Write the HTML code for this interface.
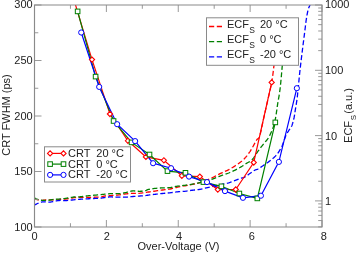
<!DOCTYPE html><html><head><meta charset="utf-8"><style>html,body{margin:0;padding:0;background:#fff;}svg{display:block;will-change:transform;}</style></head><body><svg width="357" height="253" viewBox="0 0 357 253">
<defs><clipPath id="pc"><rect x="34.5" y="5" width="287.5" height="222"/></clipPath></defs>
<rect width="357" height="253" fill="#fff"/>
<g clip-path="url(#pc)" fill="none" stroke-width="1.3" stroke-dasharray="5 2.5">
<path d="M34.00,198.80 L34.31,198.88 L34.72,198.99 L35.21,199.12 L35.75,199.27 L36.32,199.42 L36.91,199.56 L37.47,199.69 L38.00,199.80 L38.49,199.89 L38.98,199.98 L39.46,200.06 L39.94,200.14 L40.43,200.20 L40.93,200.25 L41.45,200.28 L42.00,200.30 L42.54,200.29 L43.06,200.26 L43.58,200.20 L44.12,200.14 L44.71,200.07 L45.38,200.00 L46.13,199.94 L47.00,199.90 L48.04,199.88 L49.27,199.87 L50.60,199.87 L52.00,199.88 L53.40,199.88 L54.73,199.87 L55.96,199.84 L57.00,199.80 L57.87,199.73 L58.62,199.63 L59.29,199.52 L59.88,199.39 L60.42,199.27 L60.94,199.16 L61.46,199.07 L62.00,199.00 L62.52,198.97 L62.98,198.97 L63.40,199.00 L63.81,199.03 L64.25,199.06 L64.74,199.07 L65.32,199.06 L66.00,199.00 L66.82,198.89 L67.74,198.74 L68.75,198.56 L69.81,198.37 L70.90,198.17 L71.98,197.99 L73.02,197.82 L74.00,197.70 L74.91,197.61 L75.77,197.55 L76.61,197.51 L77.44,197.47 L78.27,197.45 L79.13,197.44 L80.04,197.42 L81.00,197.40 L82.02,197.38 L83.09,197.37 L84.18,197.36 L85.31,197.35 L86.46,197.34 L87.63,197.33 L88.81,197.32 L90.00,197.30 L91.24,197.28 L92.55,197.26 L93.90,197.23 L95.25,197.21 L96.57,197.17 L97.83,197.13 L98.98,197.07 L100.00,197.00 L100.86,196.90 L101.60,196.78 L102.24,196.65 L102.81,196.50 L103.34,196.35 L103.87,196.22 L104.41,196.10 L105.00,196.00 L105.59,195.93 L106.13,195.89 L106.66,195.86 L107.19,195.84 L107.76,195.83 L108.40,195.80 L109.14,195.76 L110.00,195.70 L111.04,195.62 L112.27,195.51 L113.60,195.40 L115.00,195.28 L116.40,195.16 L117.73,195.03 L118.96,194.91 L120.00,194.80 L120.85,194.69 L121.55,194.59 L122.15,194.48 L122.69,194.38 L123.20,194.28 L123.73,194.18 L124.31,194.09 L125.00,194.00 L125.77,193.91 L126.59,193.83 L127.43,193.74 L128.31,193.66 L129.21,193.59 L130.13,193.52 L131.06,193.45 L132.00,193.40 L132.94,193.36 L133.88,193.35 L134.84,193.35 L135.81,193.35 L136.81,193.35 L137.84,193.32 L138.90,193.28 L140.00,193.20 L141.15,193.08 L142.36,192.94 L143.60,192.77 L144.88,192.58 L146.16,192.39 L147.45,192.19 L148.74,191.99 L150.00,191.80 L151.25,191.62 L152.50,191.43 L153.75,191.24 L155.00,191.04 L156.25,190.85 L157.50,190.66 L158.75,190.48 L160.00,190.30 L161.25,190.14 L162.50,189.99 L163.75,189.85 L165.00,189.71 L166.25,189.56 L167.50,189.40 L168.75,189.21 L170.00,189.00 L171.25,188.75 L172.50,188.46 L173.75,188.15 L175.00,187.82 L176.25,187.50 L177.50,187.18 L178.75,186.87 L180.00,186.60 L181.25,186.36 L182.50,186.14 L183.75,185.94 L185.00,185.74 L186.25,185.55 L187.50,185.35 L188.75,185.14 L190.00,184.90 L191.25,184.65 L192.50,184.40 L193.75,184.15 L195.00,183.88 L196.25,183.60 L197.50,183.29 L198.75,182.96 L200.00,182.60 L201.25,182.21 L202.50,181.79 L203.75,181.34 L205.00,180.87 L206.25,180.39 L207.50,179.88 L208.75,179.35 L210.00,178.80 L211.25,178.22 L212.50,177.61 L213.75,176.97 L215.00,176.31 L216.25,175.64 L217.50,174.98 L218.75,174.33 L220.00,173.70 L221.25,173.11 L222.50,172.54 L223.75,171.99 L225.00,171.44 L226.25,170.88 L227.50,170.29 L228.75,169.67 L230.00,169.00 L231.28,168.26 L232.62,167.45 L233.97,166.61 L235.31,165.74 L236.62,164.87 L237.85,164.03 L238.99,163.23 L240.00,162.50 L240.87,161.85 L241.61,161.27 L242.25,160.73 L242.83,160.22 L243.37,159.71 L243.89,159.18 L244.42,158.62 L245.00,158.00 L245.61,157.32 L246.23,156.59 L246.85,155.84 L247.46,155.06 L248.05,154.28 L248.63,153.50 L249.18,152.74 L249.70,152.00 L250.18,151.30 L250.62,150.61 L251.03,149.94 L251.42,149.28 L251.80,148.61 L252.19,147.93 L252.58,147.23 L253.00,146.50 L253.44,145.72 L253.89,144.89 L254.35,144.03 L254.81,143.16 L255.27,142.30 L255.73,141.47 L256.17,140.70 L256.60,140.00 L257.01,139.46 L257.40,139.11 L257.78,138.84 L258.15,138.59 L258.52,138.27 L258.90,137.79 L259.29,137.06 L259.70,136.00 L260.12,134.60 L260.54,132.94 L260.97,131.05 L261.41,129.00 L261.86,126.82 L262.32,124.56 L262.80,122.27 L263.30,120.00 L263.82,117.67 L264.38,115.22 L264.95,112.69 L265.53,110.10 L266.12,107.50 L266.70,104.92 L267.26,102.41 L267.80,100.00 L268.33,97.68 L268.85,95.42 L269.38,93.20 L269.89,91.02 L270.38,88.86 L270.85,86.71 L271.29,84.56 L271.70,82.40 L272.07,80.23 L272.39,78.05 L272.69,75.87 L272.97,73.71 L273.23,71.56 L273.48,69.44 L273.74,67.35 L274.00,65.30 L274.28,63.20 L274.57,60.99 L274.86,58.76 L275.14,56.58 L275.41,54.54 L275.65,52.71 L275.85,51.17 L276.00,50.00" stroke="#ff0000"/>
<path d="M34.00,197.60 L34.31,197.76 L34.72,197.99 L35.21,198.26 L35.75,198.56 L36.32,198.86 L36.91,199.14 L37.47,199.40 L38.00,199.60 L38.49,199.75 L38.95,199.88 L39.41,199.99 L39.88,200.08 L40.35,200.15 L40.86,200.20 L41.40,200.25 L42.00,200.30 L42.65,200.34 L43.36,200.37 L44.10,200.39 L44.88,200.40 L45.66,200.40 L46.45,200.38 L47.24,200.35 L48.00,200.30 L48.75,200.23 L49.50,200.13 L50.25,200.01 L51.00,199.88 L51.75,199.74 L52.50,199.61 L53.25,199.49 L54.00,199.40 L54.75,199.33 L55.50,199.27 L56.25,199.23 L57.00,199.19 L57.75,199.15 L58.50,199.11 L59.25,199.06 L60.00,199.00 L60.74,198.93 L61.45,198.86 L62.16,198.79 L62.88,198.71 L63.60,198.62 L64.36,198.52 L65.15,198.42 L66.00,198.30 L66.91,198.16 L67.88,197.99 L68.90,197.81 L69.94,197.62 L70.99,197.44 L72.02,197.27 L73.03,197.12 L74.00,197.00 L74.92,196.92 L75.82,196.87 L76.70,196.84 L77.56,196.82 L78.42,196.81 L79.27,196.79 L80.13,196.76 L81.00,196.70 L81.89,196.61 L82.80,196.51 L83.71,196.39 L84.62,196.26 L85.52,196.13 L86.39,196.01 L87.22,195.90 L88.00,195.80 L88.71,195.72 L89.34,195.65 L89.93,195.59 L90.50,195.53 L91.07,195.48 L91.66,195.42 L92.29,195.36 L93.00,195.30 L93.76,195.23 L94.54,195.17 L95.35,195.10 L96.19,195.03 L97.07,194.96 L97.99,194.88 L98.97,194.79 L100.00,194.70 L101.11,194.59 L102.29,194.46 L103.53,194.31 L104.81,194.17 L106.12,194.03 L107.43,193.90 L108.73,193.78 L110.00,193.70 L111.28,193.65 L112.62,193.63 L113.97,193.63 L115.31,193.64 L116.62,193.66 L117.85,193.66 L118.99,193.64 L120.00,193.60 L120.85,193.53 L121.55,193.45 L122.15,193.36 L122.69,193.25 L123.20,193.13 L123.73,193.00 L124.31,192.86 L125.00,192.70 L125.77,192.51 L126.59,192.28 L127.43,192.03 L128.31,191.77 L129.21,191.53 L130.13,191.30 L131.06,191.12 L132.00,191.00 L132.97,190.95 L134.00,190.96 L135.06,191.01 L136.12,191.08 L137.18,191.17 L138.19,191.24 L139.14,191.29 L140.00,191.30 L140.77,191.27 L141.46,191.24 L142.09,191.18 L142.69,191.12 L143.26,191.04 L143.82,190.94 L144.40,190.83 L145.00,190.70 L145.59,190.54 L146.13,190.36 L146.66,190.15 L147.19,189.93 L147.76,189.71 L148.40,189.49 L149.14,189.28 L150.00,189.10 L151.01,188.93 L152.15,188.77 L153.38,188.62 L154.69,188.47 L156.03,188.34 L157.38,188.21 L158.72,188.10 L160.00,188.00 L161.28,187.92 L162.62,187.86 L163.97,187.83 L165.31,187.79 L166.62,187.76 L167.85,187.73 L168.99,187.67 L170.00,187.60 L170.86,187.50 L171.60,187.39 L172.24,187.26 L172.81,187.12 L173.34,186.99 L173.87,186.85 L174.41,186.72 L175.00,186.60 L175.59,186.49 L176.13,186.40 L176.66,186.30 L177.19,186.21 L177.76,186.12 L178.40,186.02 L179.14,185.92 L180.00,185.80 L181.01,185.67 L182.15,185.55 L183.38,185.41 L184.69,185.28 L186.03,185.13 L187.38,184.97 L188.72,184.79 L190.00,184.60 L191.25,184.39 L192.50,184.17 L193.75,183.94 L195.00,183.69 L196.25,183.44 L197.50,183.17 L198.75,182.89 L200.00,182.60 L201.25,182.30 L202.50,182.00 L203.75,181.69 L205.00,181.36 L206.25,181.02 L207.50,180.67 L208.75,180.29 L210.00,179.90 L211.25,179.48 L212.50,179.02 L213.75,178.55 L215.00,178.06 L216.25,177.56 L217.50,177.06 L218.75,176.57 L220.00,176.10 L221.25,175.65 L222.50,175.22 L223.75,174.80 L225.00,174.38 L226.25,173.94 L227.50,173.49 L228.75,173.02 L230.00,172.50 L231.27,171.94 L232.57,171.33 L233.89,170.70 L235.19,170.05 L236.48,169.39 L237.72,168.74 L238.90,168.11 L240.00,167.50 L241.03,166.90 L242.02,166.30 L242.96,165.70 L243.86,165.11 L244.70,164.55 L245.49,164.02 L246.22,163.53 L246.90,163.10 L247.50,162.75 L248.02,162.47 L248.47,162.24 L248.87,162.04 L249.24,161.85 L249.61,161.65 L249.99,161.41 L250.40,161.10 L250.82,160.75 L251.24,160.40 L251.65,160.02 L252.06,159.62 L252.47,159.19 L252.90,158.71 L253.34,158.19 L253.80,157.60 L254.28,156.95 L254.76,156.23 L255.25,155.46 L255.76,154.64 L256.28,153.80 L256.83,152.94 L257.40,152.07 L258.00,151.20 L258.65,150.31 L259.35,149.37 L260.09,148.41 L260.84,147.43 L261.60,146.47 L262.34,145.53 L263.04,144.63 L263.70,143.80 L264.32,143.03 L264.92,142.31 L265.49,141.63 L266.05,140.98 L266.58,140.35 L267.08,139.73 L267.56,139.12 L268.00,138.50 L268.40,137.89 L268.75,137.30 L269.07,136.73 L269.37,136.17 L269.65,135.60 L269.92,135.02 L270.20,134.43 L270.50,133.80 L270.81,133.14 L271.12,132.47 L271.44,131.77 L271.75,131.06 L272.06,130.35 L272.35,129.63 L272.63,128.91 L272.90,128.20 L273.15,127.49 L273.39,126.79 L273.61,126.08 L273.82,125.37 L274.03,124.66 L274.23,123.95 L274.42,123.23 L274.60,122.50 L274.78,121.77 L274.94,121.03 L275.10,120.29 L275.24,119.55 L275.39,118.80 L275.53,118.04 L275.66,117.28 L275.80,116.50 L275.93,115.71 L276.06,114.92 L276.19,114.12 L276.31,113.31 L276.43,112.50 L276.55,111.67 L276.68,110.84 L276.80,110.00 L276.92,109.16 L277.04,108.31 L277.16,107.46 L277.27,106.59 L277.40,105.72 L277.52,104.83 L277.66,103.93 L277.80,103.00 L277.96,102.06 L278.12,101.12 L278.30,100.16 L278.48,99.19 L278.66,98.19 L278.85,97.16 L279.03,96.10 L279.20,95.00 L279.36,93.91 L279.52,92.87 L279.67,91.82 L279.83,90.73 L279.98,89.55 L280.14,88.23 L280.31,86.73 L280.50,85.00 L280.71,82.97 L280.93,80.65 L281.16,78.13 L281.41,75.48 L281.65,72.79 L281.88,70.14 L282.10,67.62 L282.30,65.30 L282.49,63.07 L282.67,60.81 L282.85,58.57 L283.01,56.42 L283.16,54.42 L283.30,52.65 L283.41,51.15 L283.50,50.00" stroke="#008000"/>
<path d="M34.00,205.20 L34.32,205.05 L34.74,204.84 L35.25,204.59 L35.81,204.32 L36.40,204.04 L36.98,203.76 L37.52,203.51 L38.00,203.30 L38.42,203.12 L38.82,202.95 L39.20,202.80 L39.56,202.66 L39.92,202.53 L40.27,202.41 L40.63,202.30 L41.00,202.20 L41.36,202.11 L41.70,202.03 L42.04,201.96 L42.38,201.91 L42.73,201.86 L43.11,201.83 L43.53,201.81 L44.00,201.80 L44.54,201.82 L45.13,201.87 L45.77,201.94 L46.44,202.01 L47.11,202.09 L47.77,202.15 L48.41,202.19 L49.00,202.20 L49.55,202.17 L50.07,202.12 L50.57,202.06 L51.06,201.97 L51.54,201.88 L52.02,201.79 L52.51,201.69 L53.00,201.60 L53.50,201.51 L54.00,201.40 L54.50,201.30 L55.00,201.19 L55.50,201.08 L56.00,200.98 L56.50,200.88 L57.00,200.80 L57.49,200.73 L57.98,200.66 L58.46,200.59 L58.94,200.54 L59.43,200.49 L59.93,200.45 L60.45,200.42 L61.00,200.40 L61.56,200.40 L62.11,200.43 L62.67,200.47 L63.25,200.53 L63.86,200.57 L64.52,200.61 L65.22,200.62 L66.00,200.60 L66.86,200.55 L67.81,200.47 L68.82,200.36 L69.88,200.25 L70.94,200.13 L72.00,200.01 L73.03,199.90 L74.00,199.80 L74.91,199.71 L75.77,199.63 L76.61,199.56 L77.44,199.48 L78.27,199.41 L79.13,199.34 L80.04,199.27 L81.00,199.20 L82.02,199.13 L83.09,199.07 L84.18,199.01 L85.31,198.94 L86.46,198.88 L87.63,198.82 L88.81,198.76 L90.00,198.70 L91.24,198.64 L92.55,198.58 L93.90,198.52 L95.25,198.46 L96.57,198.40 L97.83,198.34 L98.98,198.27 L100.00,198.20 L100.86,198.12 L101.60,198.04 L102.24,197.95 L102.81,197.86 L103.34,197.76 L103.87,197.67 L104.41,197.58 L105.00,197.50 L105.62,197.41 L106.25,197.32 L106.88,197.23 L107.50,197.14 L108.12,197.05 L108.75,196.98 L109.38,196.93 L110.00,196.90 L110.62,196.90 L111.25,196.92 L111.88,196.96 L112.50,197.02 L113.12,197.08 L113.75,197.13 L114.38,197.18 L115.00,197.20 L115.62,197.21 L116.25,197.20 L116.88,197.18 L117.50,197.16 L118.12,197.14 L118.75,197.12 L119.38,197.11 L120.00,197.10 L120.61,197.11 L121.20,197.13 L121.79,197.15 L122.38,197.18 L122.98,197.20 L123.61,197.22 L124.28,197.22 L125.00,197.20 L125.77,197.16 L126.59,197.10 L127.43,197.03 L128.31,196.94 L129.21,196.86 L130.13,196.77 L131.06,196.68 L132.00,196.60 L132.97,196.52 L134.00,196.45 L135.06,196.37 L136.12,196.29 L137.18,196.21 L138.19,196.14 L139.14,196.07 L140.00,196.00 L140.77,195.94 L141.46,195.89 L142.09,195.85 L142.69,195.81 L143.26,195.76 L143.82,195.72 L144.40,195.66 L145.00,195.60 L145.62,195.53 L146.25,195.44 L146.88,195.36 L147.50,195.26 L148.12,195.17 L148.75,195.07 L149.38,194.98 L150.00,194.90 L150.62,194.82 L151.25,194.74 L151.88,194.67 L152.50,194.59 L153.12,194.52 L153.75,194.45 L154.38,194.37 L155.00,194.30 L155.59,194.23 L156.13,194.16 L156.66,194.09 L157.19,194.02 L157.76,193.95 L158.40,193.87 L159.14,193.79 L160.00,193.70 L161.04,193.60 L162.27,193.49 L163.60,193.38 L165.00,193.26 L166.40,193.14 L167.73,193.02 L168.96,192.90 L170.00,192.80 L170.86,192.70 L171.60,192.61 L172.24,192.51 L172.81,192.43 L173.34,192.34 L173.87,192.26 L174.41,192.18 L175.00,192.10 L175.62,192.03 L176.25,191.96 L176.88,191.89 L177.50,191.82 L178.12,191.76 L178.75,191.71 L179.38,191.65 L180.00,191.60 L180.62,191.56 L181.25,191.52 L181.88,191.49 L182.50,191.47 L183.12,191.44 L183.75,191.41 L184.38,191.36 L185.00,191.30 L185.59,191.23 L186.13,191.14 L186.66,191.05 L187.19,190.96 L187.76,190.85 L188.40,190.74 L189.14,190.62 L190.00,190.50 L191.01,190.38 L192.15,190.25 L193.38,190.13 L194.69,189.99 L196.03,189.85 L197.38,189.69 L198.72,189.51 L200.00,189.30 L201.25,189.06 L202.50,188.80 L203.75,188.51 L205.00,188.21 L206.25,187.90 L207.50,187.59 L208.75,187.29 L210.00,187.00 L211.25,186.72 L212.50,186.45 L213.75,186.18 L215.00,185.91 L216.25,185.64 L217.50,185.36 L218.75,185.08 L220.00,184.80 L221.25,184.52 L222.50,184.25 L223.75,183.98 L225.00,183.71 L226.25,183.42 L227.50,183.11 L228.75,182.77 L230.00,182.40 L231.28,181.97 L232.62,181.48 L233.97,180.95 L235.31,180.40 L236.62,179.86 L237.85,179.35 L238.99,178.89 L240.00,178.50 L240.84,178.22 L241.51,178.05 L242.07,177.93 L242.58,177.84 L243.07,177.74 L243.60,177.57 L244.23,177.30 L245.00,176.90 L245.95,176.31 L247.04,175.57 L248.22,174.71 L249.45,173.81 L250.67,172.90 L251.83,172.04 L252.89,171.29 L253.80,170.70 L254.53,170.29 L255.13,170.01 L255.62,169.84 L256.06,169.72 L256.48,169.62 L256.92,169.49 L257.41,169.30 L258.00,169.00 L258.68,168.60 L259.41,168.15 L260.18,167.65 L260.98,167.12 L261.79,166.56 L262.60,166.00 L263.41,165.44 L264.20,164.90 L264.98,164.37 L265.76,163.84 L266.55,163.30 L267.34,162.76 L268.12,162.21 L268.89,161.65 L269.65,161.08 L270.40,160.50 L271.14,159.91 L271.88,159.31 L272.61,158.70 L273.33,158.09 L274.04,157.46 L274.72,156.82 L275.38,156.17 L276.00,155.50 L276.60,154.80 L277.17,154.07 L277.73,153.32 L278.26,152.56 L278.76,151.81 L279.24,151.07 L279.68,150.36 L280.10,149.70 L280.47,149.12 L280.78,148.62 L281.05,148.17 L281.29,147.73 L281.54,147.26 L281.79,146.73 L282.07,146.08 L282.40,145.30 L282.78,144.33 L283.18,143.19 L283.61,141.93 L284.06,140.61 L284.51,139.28 L284.95,138.00 L285.39,136.82 L285.80,135.80 L286.19,134.93 L286.58,134.16 L286.96,133.47 L287.33,132.84 L287.70,132.24 L288.07,131.67 L288.43,131.10 L288.80,130.50 L289.17,129.92 L289.55,129.40 L289.92,128.91 L290.29,128.42 L290.66,127.91 L291.02,127.35 L291.37,126.72 L291.70,126.00 L292.02,125.17 L292.34,124.25 L292.65,123.26 L292.95,122.22 L293.24,121.15 L293.51,120.08 L293.76,119.02 L294.00,118.00 L294.21,116.99 L294.40,115.95 L294.57,114.91 L294.73,113.88 L294.88,112.85 L295.02,111.86 L295.16,110.90 L295.30,110.00 L295.44,109.16 L295.57,108.38 L295.70,107.65 L295.82,106.94 L295.94,106.24 L296.06,105.52 L296.18,104.78 L296.30,104.00 L296.43,103.17 L296.56,102.32 L296.69,101.45 L296.82,100.56 L296.95,99.67 L297.07,98.77 L297.19,97.88 L297.30,97.00 L297.40,96.13 L297.49,95.27 L297.58,94.42 L297.66,93.56 L297.74,92.70 L297.83,91.82 L297.91,90.92 L298.00,90.00 L298.09,89.06 L298.19,88.12 L298.28,87.16 L298.38,86.19 L298.48,85.19 L298.58,84.16 L298.69,83.10 L298.80,82.00 L298.91,80.85 L299.03,79.65 L299.15,78.41 L299.27,77.15 L299.40,75.87 L299.53,74.58 L299.66,73.28 L299.80,72.00 L299.94,70.72 L300.08,69.43 L300.23,68.14 L300.38,66.84 L300.53,65.53 L300.69,64.22 L300.84,62.91 L301.00,61.60 L301.16,60.27 L301.32,58.90 L301.49,57.53 L301.66,56.15 L301.83,54.79 L301.99,53.47 L302.15,52.20 L302.30,51.00 L302.44,49.87 L302.57,48.79 L302.70,47.77 L302.82,46.77 L302.95,45.81 L303.06,44.87 L303.18,43.93 L303.30,43.00 L303.42,42.08 L303.53,41.20 L303.64,40.35 L303.75,39.50 L303.86,38.65 L303.97,37.80 L304.08,36.92 L304.20,36.00 L304.32,35.05 L304.44,34.07 L304.57,33.07 L304.69,32.06 L304.82,31.04 L304.95,30.02 L305.07,29.01 L305.20,28.00 L305.32,26.99 L305.45,25.98 L305.57,24.96 L305.69,23.94 L305.81,22.93 L305.94,21.93 L306.07,20.95 L306.20,20.00 L306.34,19.06 L306.49,18.12 L306.64,17.19 L306.79,16.28 L306.95,15.40 L307.10,14.55 L307.25,13.75 L307.40,13.00 L307.54,12.31 L307.68,11.68 L307.81,11.09 L307.94,10.53 L308.07,10.00 L308.21,9.50 L308.35,9.00 L308.50,8.50 L308.66,8.02 L308.84,7.59 L309.02,7.18 L309.20,6.78 L309.38,6.38 L309.56,5.96 L309.74,5.50 L309.90,5.00 L310.06,4.41 L310.22,3.74 L310.38,3.02 L310.54,2.28 L310.68,1.57 L310.81,0.93 L310.92,0.40 L311.00,0.00" stroke="#0000ff"/>
</g>
<g clip-path="url(#pc)" fill="none" stroke-width="1.2">
<path d="M74.03,0.00 L92.00,59.60 L109.97,114.00 L127.94,140.80 L145.91,156.90 L163.88,160.30 L181.85,175.80 L199.82,176.60 L217.79,189.60 L235.76,189.50 L253.73,162.50 L271.70,82.40" stroke="#ff0000"/>
<path d="M77.63,11.40 L95.60,76.60 L113.57,121.00 L131.54,142.40 L149.51,154.50 L167.48,171.10 L185.45,172.80 L203.42,182.10 L221.39,186.30 L239.36,193.50 L257.33,198.40 L275.30,122.40" stroke="#008000"/>
<path d="M81.22,32.50 L99.19,86.90 L117.16,124.20 L135.13,141.10 L153.10,163.20 L171.07,168.20 L189.04,176.60 L207.01,182.10 L224.98,191.10 L242.95,197.80 L260.92,195.70 L278.89,161.90 L296.86,88.20" stroke="#0000ff"/>
</g>
<g clip-path="url(#pc)">
<path d="M71.43,0.00 L74.03,-2.60 L76.63,0.00 L74.03,2.60 Z" fill="#fff" stroke="#ff0000" stroke-width="1.1"/>
<path d="M89.40,59.60 L92.00,57.00 L94.60,59.60 L92.00,62.20 Z" fill="#fff" stroke="#ff0000" stroke-width="1.1"/>
<path d="M107.37,114.00 L109.97,111.40 L112.57,114.00 L109.97,116.60 Z" fill="#fff" stroke="#ff0000" stroke-width="1.1"/>
<path d="M125.34,140.80 L127.94,138.20 L130.54,140.80 L127.94,143.40 Z" fill="#fff" stroke="#ff0000" stroke-width="1.1"/>
<path d="M143.31,156.90 L145.91,154.30 L148.51,156.90 L145.91,159.50 Z" fill="#fff" stroke="#ff0000" stroke-width="1.1"/>
<path d="M161.28,160.30 L163.88,157.70 L166.48,160.30 L163.88,162.90 Z" fill="#fff" stroke="#ff0000" stroke-width="1.1"/>
<path d="M179.25,175.80 L181.85,173.20 L184.45,175.80 L181.85,178.40 Z" fill="#fff" stroke="#ff0000" stroke-width="1.1"/>
<path d="M197.22,176.60 L199.82,174.00 L202.42,176.60 L199.82,179.20 Z" fill="#fff" stroke="#ff0000" stroke-width="1.1"/>
<path d="M215.19,189.60 L217.79,187.00 L220.39,189.60 L217.79,192.20 Z" fill="#fff" stroke="#ff0000" stroke-width="1.1"/>
<path d="M233.16,189.50 L235.76,186.90 L238.36,189.50 L235.76,192.10 Z" fill="#fff" stroke="#ff0000" stroke-width="1.1"/>
<path d="M251.13,162.50 L253.73,159.90 L256.33,162.50 L253.73,165.10 Z" fill="#fff" stroke="#ff0000" stroke-width="1.1"/>
<path d="M269.10,82.40 L271.70,79.80 L274.30,82.40 L271.70,85.00 Z" fill="#fff" stroke="#ff0000" stroke-width="1.1"/>
<rect x="75.33" y="9.10" width="4.60" height="4.60" fill="#fff" stroke="#008000" stroke-width="1"/>
<rect x="93.30" y="74.30" width="4.60" height="4.60" fill="#fff" stroke="#008000" stroke-width="1"/>
<rect x="111.27" y="118.70" width="4.60" height="4.60" fill="#fff" stroke="#008000" stroke-width="1"/>
<rect x="129.24" y="140.10" width="4.60" height="4.60" fill="#fff" stroke="#008000" stroke-width="1"/>
<rect x="147.21" y="152.20" width="4.60" height="4.60" fill="#fff" stroke="#008000" stroke-width="1"/>
<rect x="165.18" y="168.80" width="4.60" height="4.60" fill="#fff" stroke="#008000" stroke-width="1"/>
<rect x="183.15" y="170.50" width="4.60" height="4.60" fill="#fff" stroke="#008000" stroke-width="1"/>
<rect x="201.12" y="179.80" width="4.60" height="4.60" fill="#fff" stroke="#008000" stroke-width="1"/>
<rect x="219.09" y="184.00" width="4.60" height="4.60" fill="#fff" stroke="#008000" stroke-width="1"/>
<rect x="237.06" y="191.20" width="4.60" height="4.60" fill="#fff" stroke="#008000" stroke-width="1"/>
<rect x="255.03" y="196.10" width="4.60" height="4.60" fill="#fff" stroke="#008000" stroke-width="1"/>
<rect x="273.00" y="120.10" width="4.60" height="4.60" fill="#fff" stroke="#008000" stroke-width="1"/>
<circle cx="81.22" cy="32.50" r="2.6" fill="#fff" stroke="#0000ff" stroke-width="1"/>
<circle cx="99.19" cy="86.90" r="2.6" fill="#fff" stroke="#0000ff" stroke-width="1"/>
<circle cx="117.16" cy="124.20" r="2.6" fill="#fff" stroke="#0000ff" stroke-width="1"/>
<circle cx="135.13" cy="141.10" r="2.6" fill="#fff" stroke="#0000ff" stroke-width="1"/>
<circle cx="153.10" cy="163.20" r="2.6" fill="#fff" stroke="#0000ff" stroke-width="1"/>
<circle cx="171.07" cy="168.20" r="2.6" fill="#fff" stroke="#0000ff" stroke-width="1"/>
<circle cx="189.04" cy="176.60" r="2.6" fill="#fff" stroke="#0000ff" stroke-width="1"/>
<circle cx="207.01" cy="182.10" r="2.6" fill="#fff" stroke="#0000ff" stroke-width="1"/>
<circle cx="224.98" cy="191.10" r="2.6" fill="#fff" stroke="#0000ff" stroke-width="1"/>
<circle cx="242.95" cy="197.80" r="2.6" fill="#fff" stroke="#0000ff" stroke-width="1"/>
<circle cx="260.92" cy="195.70" r="2.6" fill="#fff" stroke="#0000ff" stroke-width="1"/>
<circle cx="278.89" cy="161.90" r="2.6" fill="#fff" stroke="#0000ff" stroke-width="1"/>
<circle cx="296.86" cy="88.20" r="2.6" fill="#fff" stroke="#0000ff" stroke-width="1"/>
</g>
<path d="M34.50,227 V220.00 M34.50,5 V12.00 M70.44,227 V223.20 M70.44,5 V8.80 M106.38,227 V220.00 M106.38,5 V12.00 M142.32,227 V223.20 M142.32,5 V8.80 M178.26,227 V220.00 M178.26,5 V12.00 M214.20,227 V223.20 M214.20,5 V8.80 M250.14,227 V220.00 M250.14,5 V12.00 M286.08,227 V223.20 M286.08,5 V8.80 M322.02,227 V220.00 M322.02,5 V12.00 M34.5,227.00 H41.50 M34.5,199.25 H38.30 M34.5,171.50 H41.50 M34.5,143.75 H38.30 M34.5,116.00 H41.50 M34.5,88.25 H38.30 M34.5,60.50 H41.50 M34.5,32.75 H38.30 M34.5,5.00 H41.50 M322,226.89 H318.20 M322,220.56 H318.20 M322,215.39 H318.20 M322,211.02 H318.20 M322,207.23 H318.20 M322,203.89 H318.20 M322,200.90 H315.00 M322,181.24 H318.20 M322,169.74 H318.20 M322,161.59 H318.20 M322,155.26 H318.20 M322,150.09 H318.20 M322,145.72 H318.20 M322,141.93 H318.20 M322,138.59 H318.20 M322,135.60 H315.00 M322,115.94 H318.20 M322,104.44 H318.20 M322,96.29 H318.20 M322,89.96 H318.20 M322,84.79 H318.20 M322,80.42 H318.20 M322,76.63 H318.20 M322,73.29 H318.20 M322,70.30 H315.00 M322,50.64 H318.20 M322,39.14 H318.20 M322,30.99 H318.20 M322,24.66 H318.20 M322,19.49 H318.20 M322,15.12 H318.20 M322,11.33 H318.20 M322,7.99 H318.20 M322,5.00 H315.00" stroke="#999" stroke-width="1" fill="none"/>
<path d="M34.5,5 V227 H322 V5 Z" fill="none" stroke="#8a8a8a" stroke-width="1.15"/>
<text x="32.7" y="230.60" text-anchor="end" font-family="Liberation Sans, sans-serif" font-size="11" fill="#222">100</text>
<text x="32.7" y="175.10" text-anchor="end" font-family="Liberation Sans, sans-serif" font-size="11" fill="#222">150</text>
<text x="32.7" y="119.60" text-anchor="end" font-family="Liberation Sans, sans-serif" font-size="11" fill="#222">200</text>
<text x="32.7" y="64.10" text-anchor="end" font-family="Liberation Sans, sans-serif" font-size="11" fill="#222">250</text>
<text x="32.7" y="8.30" text-anchor="end" font-family="Liberation Sans, sans-serif" font-size="11" fill="#222">300</text>
<text x="34.50" y="239.8" text-anchor="middle" font-family="Liberation Sans, sans-serif" font-size="11" fill="#222">0</text>
<text x="106.78" y="239.8" text-anchor="middle" font-family="Liberation Sans, sans-serif" font-size="11" fill="#222">2</text>
<text x="178.96" y="239.8" text-anchor="middle" font-family="Liberation Sans, sans-serif" font-size="11" fill="#222">4</text>
<text x="251.74" y="239.8" text-anchor="middle" font-family="Liberation Sans, sans-serif" font-size="11" fill="#222">6</text>
<text x="323.82" y="239.8" text-anchor="middle" font-family="Liberation Sans, sans-serif" font-size="11" fill="#222">8</text>
<text x="325.0" y="204.80" font-family="Liberation Sans, sans-serif" font-size="11" fill="#222">1</text>
<text x="325.0" y="139.50" font-family="Liberation Sans, sans-serif" font-size="11" fill="#222">10</text>
<text x="325.0" y="74.20" font-family="Liberation Sans, sans-serif" font-size="11" fill="#222">100</text>
<text x="325.0" y="8.30" font-family="Liberation Sans, sans-serif" font-size="11" fill="#222">1000</text>
<text x="178.5" y="249.8" text-anchor="middle" font-family="Liberation Sans, sans-serif" font-size="11" fill="#222">Over-Voltage (V)</text>
<text transform="translate(9.6,115.0) rotate(-90)" text-anchor="middle" font-family="Liberation Sans, sans-serif" font-size="11" fill="#222">CRT FWHM (ps)</text>
<text transform="translate(352.2,115.5) rotate(-90)" text-anchor="middle" font-family="Liberation Sans, sans-serif" font-size="11" fill="#222">ECF<tspan font-size="8" dx="0.6" dy="3.6">S</tspan><tspan dx="1.2" dy="-3.6">(a.u.)</tspan></text>
<rect x="206.5" y="17.8" width="92" height="47.5" fill="#fff" stroke="#8a8a8a" stroke-width="1"/>
<path d="M209,26.5 H222.2" stroke="#ff0000" stroke-width="1.3" stroke-dasharray="5.2 2.6" fill="none"/>
<text x="227" y="28.35" font-family="Liberation Sans, sans-serif" font-size="11" fill="#222">ECF<tspan font-size="8.5" dx="0.3" dy="4.3">S</tspan></text>
<text x="260" y="28.35" font-family="Liberation Sans, sans-serif" font-size="11" fill="#222">20 °C</text>
<path d="M209,41.7 H222.2" stroke="#008000" stroke-width="1.3" stroke-dasharray="5.2 2.6" fill="none"/>
<text x="227" y="43.45" font-family="Liberation Sans, sans-serif" font-size="11" fill="#222">ECF<tspan font-size="8.5" dx="0.3" dy="4.3">S</tspan></text>
<text x="260" y="43.45" font-family="Liberation Sans, sans-serif" font-size="11" fill="#222">0 °C</text>
<path d="M209,56.9 H222.2" stroke="#0000ff" stroke-width="1.3" stroke-dasharray="5.2 2.6" fill="none"/>
<text x="227" y="58.45" font-family="Liberation Sans, sans-serif" font-size="11" fill="#222">ECF<tspan font-size="8.5" dx="0.3" dy="4.3">S</tspan></text>
<text x="260" y="58.45" font-family="Liberation Sans, sans-serif" font-size="11" fill="#222">-20 °C</text>
<rect x="44.5" y="146.8" width="86" height="35.2" fill="#fff" stroke="#8a8a8a" stroke-width="1"/>
<path d="M50.1,153.4 H63.5" stroke="#ff0000" stroke-width="1.2" fill="none"/>
<path d="M47.50,153.40 L50.10,150.80 L52.70,153.40 L50.10,156.00 Z" fill="#fff" stroke="#ff0000" stroke-width="1.1"/>
<path d="M60.90,153.40 L63.50,150.80 L66.10,153.40 L63.50,156.00 Z" fill="#fff" stroke="#ff0000" stroke-width="1.1"/>
<text x="68.1" y="157.4" font-family="Liberation Sans, sans-serif" font-size="11" fill="#222">CRT</text>
<text x="96.3" y="157.4" font-family="Liberation Sans, sans-serif" font-size="11" fill="#222">20 °C</text>
<path d="M50.1,164.1 H63.5" stroke="#008000" stroke-width="1.2" fill="none"/>
<rect x="47.80" y="161.80" width="4.60" height="4.60" fill="#fff" stroke="#008000" stroke-width="1"/>
<rect x="61.20" y="161.80" width="4.60" height="4.60" fill="#fff" stroke="#008000" stroke-width="1"/>
<text x="68.1" y="167.9" font-family="Liberation Sans, sans-serif" font-size="11" fill="#222">CRT</text>
<text x="96.3" y="167.9" font-family="Liberation Sans, sans-serif" font-size="11" fill="#222">0 °C</text>
<path d="M50.1,174.9 H63.5" stroke="#0000ff" stroke-width="1.2" fill="none"/>
<circle cx="50.10" cy="174.90" r="2.6" fill="#fff" stroke="#0000ff" stroke-width="1"/>
<circle cx="63.50" cy="174.90" r="2.6" fill="#fff" stroke="#0000ff" stroke-width="1"/>
<text x="68.1" y="178.4" font-family="Liberation Sans, sans-serif" font-size="11" fill="#222">CRT</text>
<text x="96.3" y="178.4" font-family="Liberation Sans, sans-serif" font-size="11" fill="#222">-20 °C</text>
</svg></body></html>
